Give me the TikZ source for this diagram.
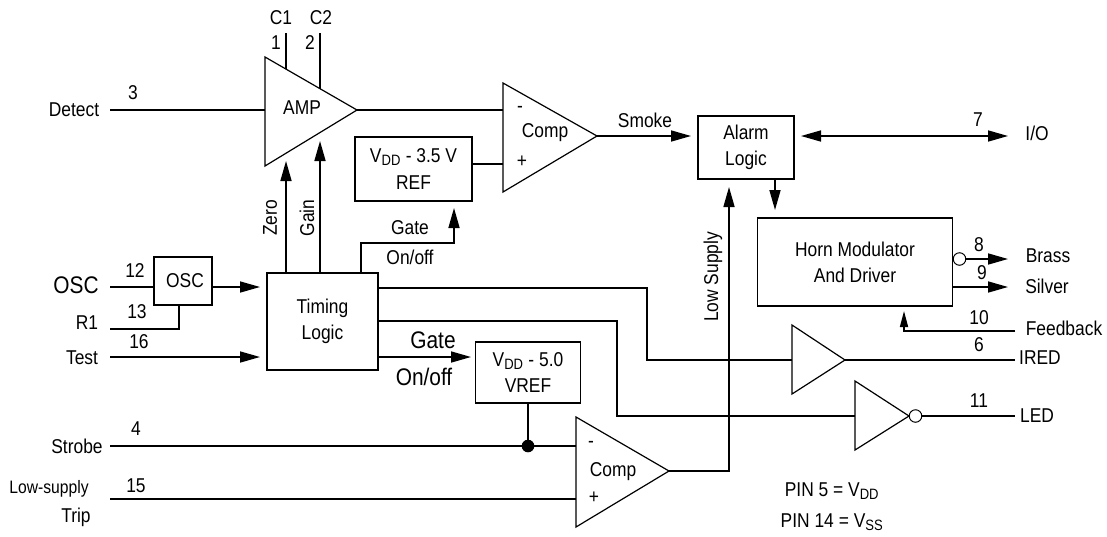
\documentclass[tikz,border=0pt]{standalone}
\usepackage{fontspec}
\setmainfont[FakeStretch=0.87]{Liberation Sans}
\usetikzlibrary{arrows.meta}
\tikzset{
  x=1pt,y=-1pt,
  lbl/.style={inner sep=0pt,font=\fontsize{20}{23}\selectfont,align=center},
  big/.style={inner sep=0pt,font=\fontsize{24}{26}\selectfont},
  wire/.style={line width=1.6pt,line cap=butt},
  box/.style={draw,line width=1.8pt,inner sep=0pt,align=center,font=\fontsize{20}{26}\selectfont},
  tri/.style={draw,line width=1.2pt,line join=miter},
  arr/.style={wire,-{Triangle[length=20pt,width=11pt]}},
  sarr/.style={wire,-{Triangle[length=16pt,width=8pt]}},
  darr/.style={wire,{Triangle[length=20pt,width=11pt]}-{Triangle[length=20pt,width=11pt]}},
  bub/.style={circle,draw,line width=1pt,minimum size=12.5pt,inner sep=0pt},
}
\newcommand{\vsub}[1]{V$_{\hbox{\fontsize{15}{15}\selectfont #1}}$}
\begin{document}
\begin{tikzpicture}
\useasboundingbox (0,0) rectangle (1107,536);
\coordinate (ampT) at (265,57); \coordinate (ampB) at (265,166); \coordinate (ampO) at (357,110);
\coordinate (cmpT) at (503,83); \coordinate (cmpB) at (503,192); \coordinate (cmpO) at (597,136);
\coordinate (lowT) at (576,417); \coordinate (lowB) at (576,527); \coordinate (lowO) at (669,471);
\coordinate (iT) at (792,325); \coordinate (iB) at (792,394); \coordinate (iO) at (845,360);
\coordinate (lT) at (855,381); \coordinate (lB) at (855,450); \coordinate (lO) at (909,416);
\draw[tri] (ampT)--(ampO)--(ampB)--cycle;
\draw[tri] (cmpT)--(cmpO)--(cmpB)--cycle;
\draw[tri] (lowT)--(lowO)--(lowB)--cycle;
\draw[tri] (iT)--(iO)--(iB)--cycle;
\draw[tri] (lT)--(lO)--(lB)--cycle;
% boxes
\node[box,minimum width=117pt,minimum height=64pt] (ref) at (413.5,169) {\vsub{DD} - 3.5 V\\[1pt] REF};
\node[box,minimum width=58pt,minimum height=48pt] (osc) at (183,281) {\hspace*{4pt}OSC};
\node[box,minimum width=111pt,minimum height=97pt] (tim) at (322.5,321.5) {Timing\\Logic};
\node[box,minimum width=105pt,minimum height=61pt] (vref) at (528,372.5) {\vsub{DD} - 5.0\\ VREF};
\node[box,minimum width=96pt,minimum height=63pt] (alarm) at (746,147.5) {Alarm\\Logic};
\node[box,minimum width=195pt,minimum height=88pt] (horn) at (855,262) {Horn Modulator\\And Driver};
% pins
\coordinate (c1t) at (286,33); \coordinate (c1b) at (286,69);
\coordinate (c2t) at (320,33); \coordinate (c2b) at (320,89);
\draw[wire] (c1t)--(c1b); \draw[wire] (c2t)--(c2b);
\coordinate (det) at (110,110); \draw[wire] (det)--(265,110);
\draw[wire] (ampO)--(503,110);
\draw[wire] (ref.east|-0,164)--(503,164);
\draw[arr] (tim.north-|286,0)--(286,161);
\draw[arr] (tim.north-|320,0)--(320,141);
\draw[arr] (tim.north-|361,0)--(361,243)--(454,243)--(454,208);
\draw[arr] (cmpO)--(691,136);
\draw[darr] (801,136)--(1008,136);
\draw[arr] (alarm.south-|775,0)--(775,210);
\draw[arr] (lowO)--(729,471)--(729,187);
% horn outputs
\node[bub] (b8) at (959.5,259) {};
\draw[arr] (b8.east)--(1008,259);
\draw[arr] (horn.east|-0,287)--(1008,287);
\draw[sarr] (1015,331)--(904,331)--(904,311);
% timing outputs
\draw[wire] (tim.east|-0,288)--(647,288)--(647,360)--(792,360);
\draw[wire] (tim.east|-0,321)--(617,321)--(617,416)--(855,416);
\draw[wire] (iO)--(1015,360);
\node[bub] (b11) at (915.5,416) {};
\draw[wire] (b11.east)--(1015,416);
% left inputs
\draw[arr] (osc.east|-0,287)--(260,287);
\draw[wire] (110,287)--(osc.west|-0,287);
\draw[wire] (110,329)--(179,329)--(179,305);
\draw[arr] (110,357)--(260,357);
\draw[arr] (tim.east|-0,357)--(471,357);
\draw[wire] (vref.south)--(528,446);
\draw[wire] (110,446)--(576,446);
\fill (528,446) circle (6.3pt);
\draw[wire] (110,499)--(576,499);
% labels
\node[lbl] at (281,18) {C1}; \node[lbl] at (321,18) {C2};
\node[lbl] at (276,43) {1}; \node[lbl] at (310,43) {2};
\node[lbl] at (74,110) {Detect}; \node[lbl] at (133,93) {3};
\node[lbl] at (302,108) {AMP};
\node[lbl] at (520,109) {-}; \node[lbl] at (545,133) {Comp}; \node[lbl] at (522,162) {+};
\node[lbl,rotate=90] at (270,218) {Zero}; \node[lbl,rotate=90] at (307,218) {Gain};
\node[lbl] at (410,228) {Gate}; \node[lbl] at (410,257) {On/off};
\node[lbl] at (645,120) {Smoke};
\node[lbl] at (978,120) {7}; \node[lbl] at (1037,133) {I/O};
\node[lbl,rotate=90] at (713,277) {Low Supply};
\node[lbl] at (979,245) {8}; \node[lbl] at (982,273) {9};
\node[lbl] at (1048,256) {Brass}; \node[lbl] at (1047,286) {Silver};
\node[lbl] at (979,318) {10}; \node[lbl] at (1064,328) {Feedback};
\node[lbl] at (979,345) {6}; \node[lbl] at (1040,358) {IRED};
\node[lbl] at (979,401) {11}; \node[lbl] at (1037,416) {LED};
\node[big] at (76,285) {OSC}; \node[lbl] at (135,271) {12};
\node[lbl] at (87,323) {R1}; \node[lbl] at (137,312) {13};
\node[lbl] at (82,358) {Test}; \node[lbl] at (139,342) {16};
\node[lbl] at (77,446) {Strobe}; \node[lbl] at (136,429) {4};
\node[lbl,font=\fontsize{18}{23}\selectfont] at (49,489) {Low-supply}; \node[lbl] at (76,517) {Trip}; \node[lbl] at (136,486) {15};
\node[big] at (433,340) {Gate}; \node[big] at (424,377) {On/off};
\node[lbl] at (591,444) {-}; \node[lbl] at (613,472) {Comp}; \node[lbl] at (594,498) {+};
\node[lbl] at (832,491) {PIN 5 = \vsub{DD}};
\node[lbl] at (832,522) {PIN 14 = \vsub{SS}};
\end{tikzpicture}
\end{document}
